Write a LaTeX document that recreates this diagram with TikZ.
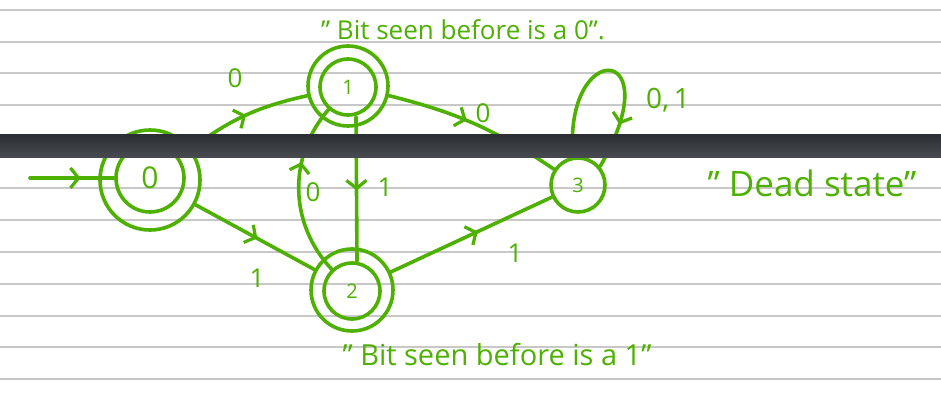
\documentclass[tikz,border=0pt]{standalone}
\usepackage{fontspec}
\setmainfont{Open Sans}
\usetikzlibrary{arrows.meta,decorations.markings}
\definecolor{pen}{RGB}{78,176,0}
\definecolor{ruleln}{RGB}{200,200,200}
\definecolor{bartop}{RGB}{44,47,51}
\definecolor{barbot}{RGB}{72,75,79}
\begin{document}
\begin{tikzpicture}[x=1pt,y=1pt,
  ink/.style={draw=pen, line width=3.6pt, line cap=round, line join=round},
  statec/.style={circle, ink, inner sep=0pt, text=pen, font=\fontsize{20}{20}\selectfont},
  ringc/.style={circle, ink, inner sep=0pt},
  edge/.style={ink},
  midarrow/.style={postaction={decorate}, decoration={markings, mark=at position #1 with {\arrow{Straight Barb[length=8pt,width=20pt,line width=3.2pt,color=pen]}}}},
  lbl/.style={text=pen, font=\fontsize{26}{26}\selectfont, inner sep=0pt},
  note/.style={text=pen, font=\fontsize{26}{26}\selectfont, inner sep=0pt},
  ruled/.style={draw=ruleln, line width=2.6pt}]
\useasboundingbox (0,0) rectangle (941,402);
\fill[white] (0,0) rectangle (941,402);
\foreach \yy in {392,360,329,297,214,182,150,118,86,55,23}
  \draw[ruled] (0,\yy) -- (941,\yy);
% states
\node[statec, minimum size=68pt, font=\fontsize{30}{30}\selectfont] (q0) at (150,224) {0};
\node[ringc, minimum size=100pt] (q0o) at (150,222) {};
\node[statec, minimum size=56pt] (q1) at (348,315) {1};
\node[ringc, minimum size=80pt] (q1o) at (348,316) {};
\node[statec, minimum size=56pt] (q2) at (352,111) {2};
\node[ringc, minimum size=82pt] (q2o) at (352,112) {};
\node[statec, minimum size=54pt] (q3) at (578,217) {3};
\coordinate (s) at (30,224);
% edges
\draw[edge, midarrow=0.6] (s) -- (q0);
\draw[edge, midarrow=0.5] (q0o) to[bend left=12] (q1o);
\draw[edge, midarrow=0.45] (q1o) to[bend left=10] (q3);
\draw[edge, midarrow=0.51] ([xshift=8pt]q1.south) -- ([xshift=5pt]q2.north);
\draw[edge, midarrow=0.66] (q2) to[bend left=42] (q1);
\draw[edge, midarrow=0.52] (q0o) -- (q2o);
\draw[edge, midarrow=0.54] (q2o) -- (q3);
\draw[edge, midarrow=0.78] (q3.100) .. controls (563,364) and (672,360) .. (q3.40);
% edge labels
\node[lbl] (l01) at (235,324) {0};
\node[lbl] (l13) at (483,289) {0};
\node[lbl] (l12) at (385,215) {1};
\node[lbl] (l21) at (313,210) {0};
\node[lbl] (l02) at (257,124) {1};
\node[lbl] (l23) at (515,149) {1};
\node[lbl, font=\fontsize{28}{28}\selectfont] (l33) at (668,302) {0,\,1};
% notes
\node[note] (n1) at (463,372) {" Bit seen before is a 0".};
\node[note, font=\fontsize{29}{29}\selectfont] (n2) at (497,47) {" Bit seen before is a 1"};
\node[note, font=\fontsize{35}{35}\selectfont] (n3) at (812,219) {" Dead state"};
% bar
\shade[top color=bartop, bottom color=barbot] (0,244) rectangle (941,267);
\end{tikzpicture}
\end{document}
